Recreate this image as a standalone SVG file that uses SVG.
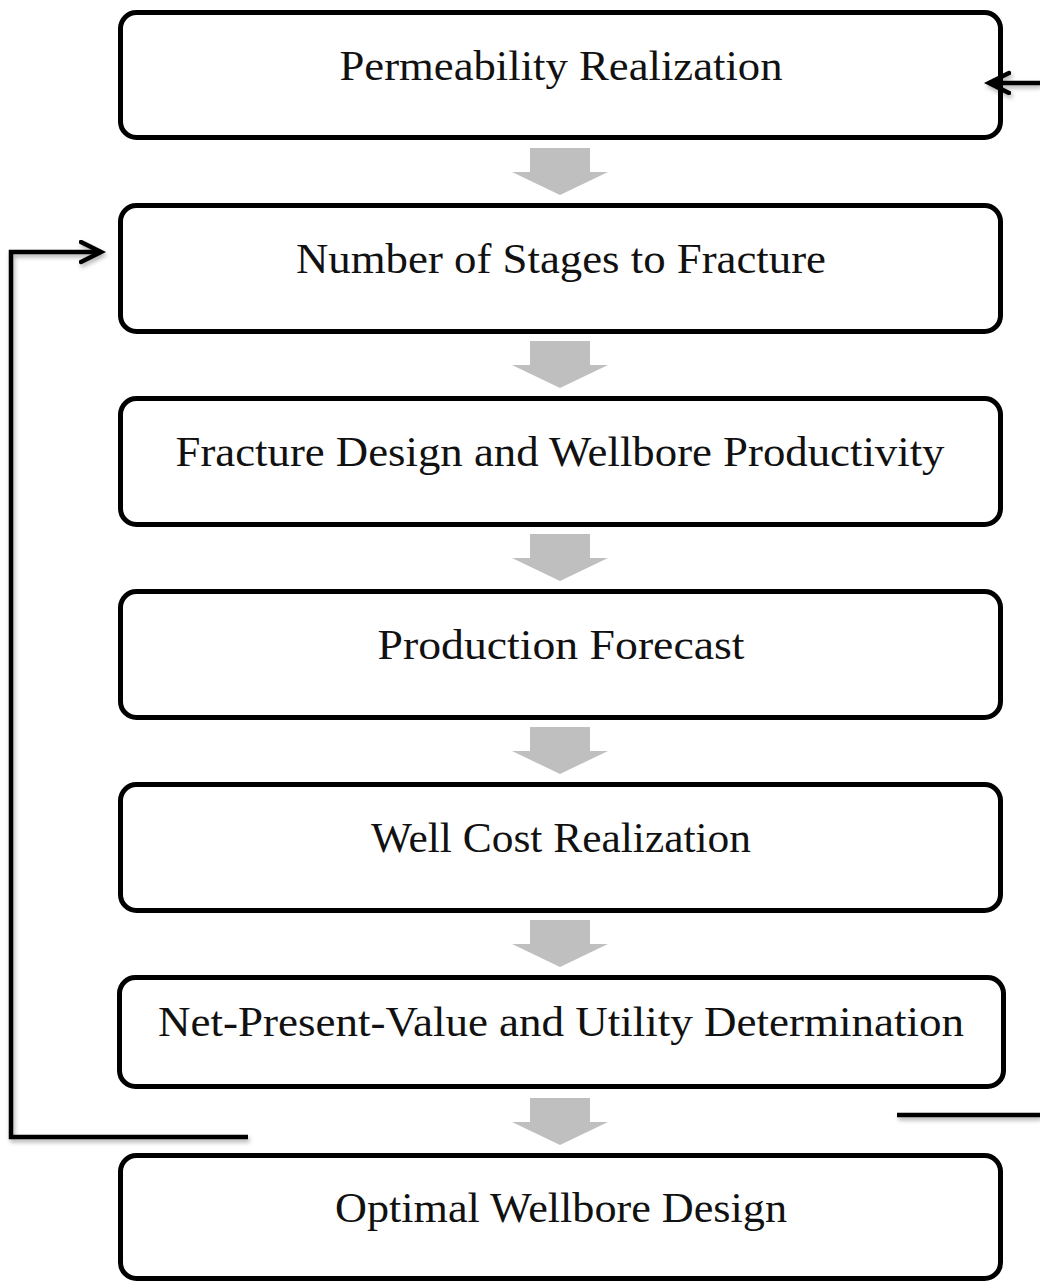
<svg xmlns="http://www.w3.org/2000/svg" width="1040" height="1283" viewBox="0 0 1040 1283">
<style>
.box{fill:#fff;stroke:#000;stroke-width:5}
.lbl{font-family:"Liberation Serif","Times New Roman",serif;font-size:43px;fill:#111;text-anchor:middle}
.flow{fill:#bfbfbf}
.conn{fill:none;stroke:#000;stroke-width:4.5;stroke-linejoin:miter}
</style>
<defs>
<filter id="sh" x="-10%" y="-10%" width="120%" height="130%">
<feDropShadow dx="1.5" dy="3" stdDeviation="2" flood-color="#000" flood-opacity="0.3"/>
</filter>
<marker id="chev" markerUnits="userSpaceOnUse" markerWidth="30" markerHeight="30" refX="22" refY="12" orient="auto">
<path d="M2,2 L22,12 L2,22" fill="none" stroke="#000" stroke-width="4.5" stroke-linecap="round" stroke-linejoin="miter"/>
</marker>
<path id="ga" d="M0,0 H60 V24 H78 L30,47 L-18,24 H0 Z"/>
</defs>

<g id="n1"><rect class="box" x="120.5" y="12.5" width="880" height="125" rx="16"/><text class="lbl" x="561" y="80" textLength="443" lengthAdjust="spacingAndGlyphs">Permeability Realization</text></g>
<g id="n2"><rect class="box" x="120.5" y="205.5" width="880" height="126" rx="16"/><text class="lbl" x="561" y="273" textLength="530" lengthAdjust="spacingAndGlyphs">Number of Stages to Fracture</text></g>
<g id="n3"><rect class="box" x="120.5" y="398.5" width="880" height="126" rx="16"/><text class="lbl" x="560" y="466" textLength="769" lengthAdjust="spacingAndGlyphs">Fracture Design and Wellbore Productivity</text></g>
<g id="n4"><rect class="box" x="120.5" y="591.5" width="880" height="126" rx="16"/><text class="lbl" x="561" y="659" textLength="367" lengthAdjust="spacingAndGlyphs">Production Forecast</text></g>
<g id="n5"><rect class="box" x="120.5" y="784.5" width="880" height="126" rx="16"/><text class="lbl" x="561" y="852" textLength="380" lengthAdjust="spacingAndGlyphs">Well Cost Realization</text></g>
<g id="n6"><rect class="box" x="119.5" y="977.5" width="884" height="109" rx="16"/><text class="lbl" x="561" y="1036" textLength="806" lengthAdjust="spacingAndGlyphs">Net-Present-Value and Utility Determination</text></g>
<g id="n7"><rect class="box" x="120.5" y="1155.5" width="880" height="123" rx="16"/><text class="lbl" x="561" y="1222" textLength="452" lengthAdjust="spacingAndGlyphs">Optimal Wellbore Design</text></g>

<g id="connectors">
<use href="#ga" class="flow" x="530" y="148"/>
<use href="#ga" class="flow" x="530" y="341"/>
<use href="#ga" class="flow" x="530" y="534"/>
<use href="#ga" class="flow" x="530" y="727"/>
<use href="#ga" class="flow" x="530" y="920"/>
<use href="#ga" class="flow" x="530" y="1098"/>
<g filter="url(#sh)">
<path class="conn" d="M1040,83 H989" marker-end="url(#chev)"/>
<path class="conn" d="M248,1137 H11 V252 H101" marker-end="url(#chev)"/>
<path class="conn" d="M897,1115 H1040"/>
</g>
</g>
</svg>
